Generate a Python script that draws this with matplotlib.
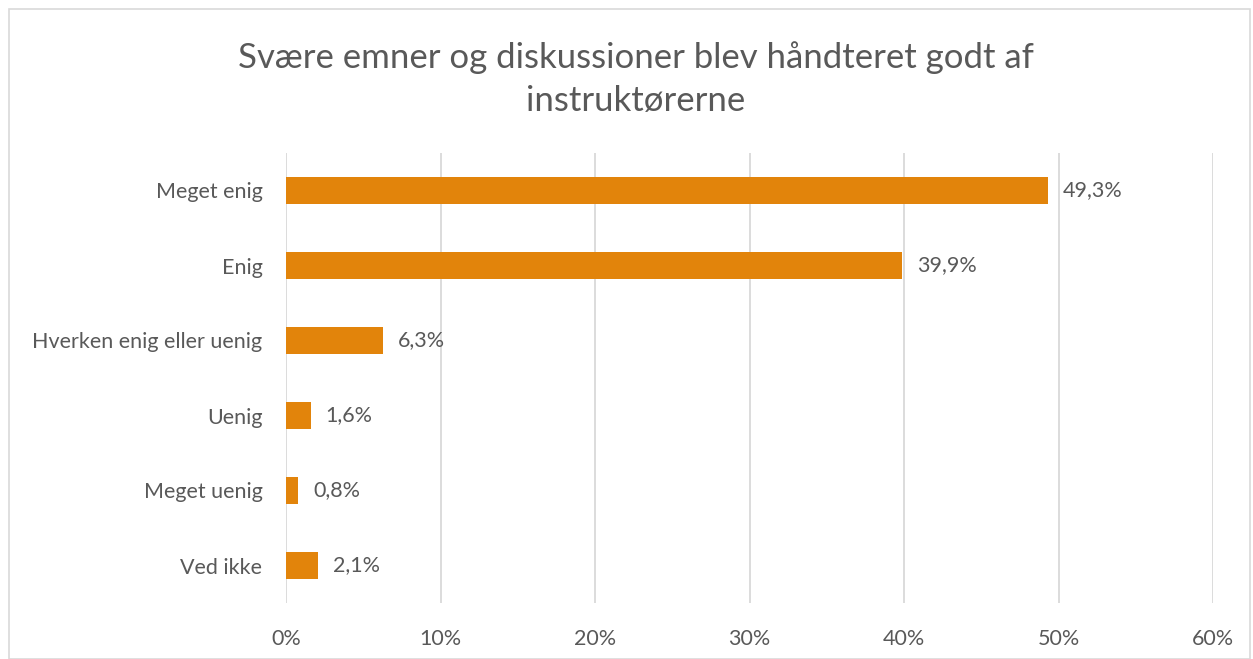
import matplotlib.pyplot as plt
from matplotlib.patches import Rectangle
from matplotlib.ticker import FuncFormatter

# survey answers, top to bottom
categories = ["Meget enig", "Enig", "Hverken enig eller uenig", "Uenig", "Meget uenig", "Ved ikke"]
shares = [49.3, 39.9, 6.3, 1.6, 0.8, 2.1]
xticks = [0, 10, 20, 30, 40, 50, 60]

bar_color = "#E2840B"
text_color = "#595959"
grid_color = "#D9D9D9"

plt.rcParams["font.family"] = ["Lato", "DejaVu Sans"]

fig = plt.figure(figsize=(12.53, 6.59), dpi=100)
fig.patches.append(Rectangle((9 / 1253, 0), 1 - 12 / 1253, 1 - 9 / 659,
                             transform=fig.transFigure, fill=False,
                             edgecolor=grid_color, linewidth=1.2))

ax = fig.add_axes([286 / 1253, 1 - 603 / 659, (1213 - 286) / 1253, (603 - 153) / 659])
ypos = list(range(len(categories)))
ax.barh(ypos, shares, height=0.35, color=bar_color, zorder=3)

for y, v in zip(ypos, shares):
    ax.annotate(f"{v:.1f}%".replace(".", ","), (v, y), xytext=(10.5, 0),
                textcoords="offset points", va="center", ha="left",
                fontsize=15.5, color=text_color)

ax.set_yticks(ypos)
ax.set_yticklabels(categories)
ax.set_ylim(len(categories) - 0.5, -0.5)
ax.set_xlim(0, 60)
ax.set_xticks(xticks)
ax.xaxis.set_major_formatter(FuncFormatter(lambda v, _: f"{v:.0f}%"))
ax.grid(axis="x", color=grid_color, linewidth=1.3, zorder=0)
ax.tick_params(axis="y", length=0, pad=17, labelsize=15.5, labelcolor=text_color)
ax.tick_params(axis="x", length=0, pad=19, labelsize=15.5, labelcolor=text_color)
for s in ax.spines.values():
    s.set_visible(False)

fig.text(636 / 1253, 1 - 79 / 659, "Svære emner og diskussioner blev håndteret godt af\ninstruktørerne",
         ha="center", va="center", fontsize=25, color=text_color, linespacing=1.45)

fig.savefig("out.png", dpi=100)
